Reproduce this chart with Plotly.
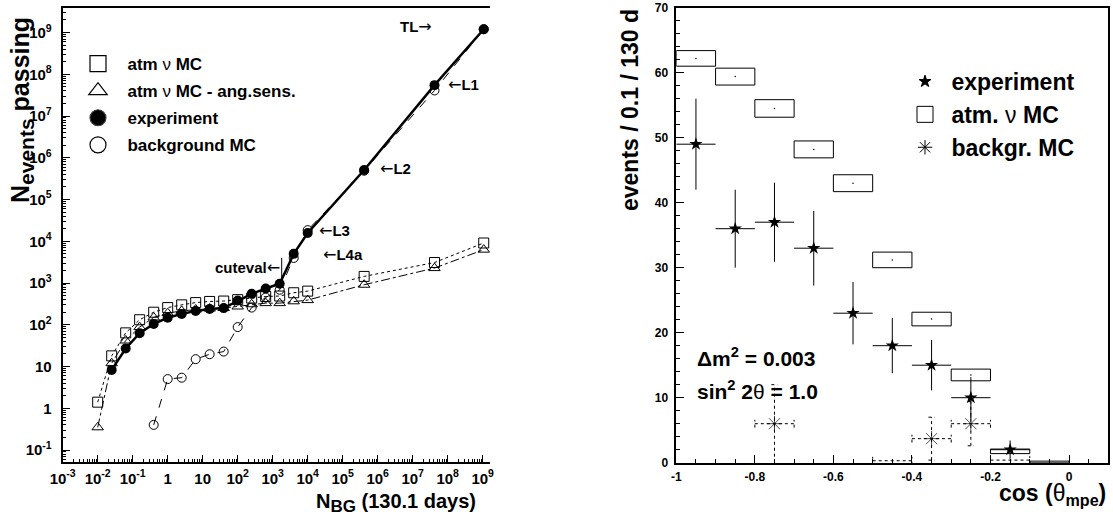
import math
import plotly.graph_objects as go

W, H = 1113, 525
FONT = "Liberation Sans"

# ---------------- left panel data ----------------
nbg_exp = [0.0251, 0.0631, 0.158, 0.398, 1.0, 2.51, 6.31, 15.8, 39.8, 100, 251, 631,
           1585, 3981, 10000, 4.1e5, 4.2e7, 1.07e9]
n_exp = [8.3, 27, 63, 105, 147, 182, 215, 240, 251, 380, 550, 740,
         960, 5000, 15800, 5.1e5, 5.5e7, 1.2e9]

nbg_bg = [0.398, 1.0, 2.51, 6.31, 15.8, 39.8, 100, 251, 631, 1585, 3981, 10000,
          4.1e5, 4.2e7, 1.07e9]
n_bg = [0.4, 5.0, 5.4, 15, 19.7, 22.8, 88, 258, 450, 690, 3980, 18500,
        4.9e5, 4.1e7, 1.2e9]

nbg_mc = [0.01, 0.0251, 0.0631, 0.158, 0.398, 1.0, 2.51, 6.31, 15.8, 39.8, 100, 251,
          631, 1585, 3981, 10000, 4.1e5, 4.2e7, 1.07e9]
n_mc = [1.4, 18, 64, 132, 200, 258, 300, 340, 362, 370, 400, 435,
        475, 488, 585, 640, 1440, 3100, 9100]
n_mc_ang = [0.35, 12, 42, 88, 150, 190, 215, 232, 245, 252, 274, 310,
            330, 330, 365, 390, 910, 2280, 6300]

left_xticks = [1e-3, 1e-2, 1e-1, 1, 10, 1e2, 1e3, 1e4, 1e5, 1e6, 1e7, 1e8, 1e9]
left_xticktext = ["10<sup>-3</sup>", "10<sup>-2</sup>", "10<sup>-1</sup>", "1", "10",
                  "10<sup>2</sup>", "10<sup>3</sup>", "10<sup>4</sup>", "10<sup>5</sup>",
                  "10<sup>6</sup>", "10<sup>7</sup>", "10<sup>8</sup>", "10<sup>9</sup>"]
left_yticks = [1e-1, 1, 10, 1e2, 1e3, 1e4, 1e5, 1e6, 1e7, 1e8, 1e9]
left_yticktext = ["10<sup>-1</sup>", "1", "10", "10<sup>2</sup>", "10<sup>3</sup>",
                  "10<sup>4</sup>", "10<sup>5</sup>", "10<sup>6</sup>", "10<sup>7</sup>",
                  "10<sup>8</sup>", "10<sup>9</sup>"]

# ---------------- right panel data ----------------
bin_centers = [-0.95, -0.85, -0.75, -0.65, -0.55, -0.45, -0.35, -0.25, -0.15, -0.05]
bin_halfwidth = 0.05
mc_atm = [62.2, 59.4, 54.5, 48.2, 43.0, 31.2, 22.1, 13.5, 1.75, 0.12]
mc_atm_err = [1.2, 1.3, 1.35, 1.3, 1.3, 1.2, 1.05, 0.9, 0.35, 0.12]

exp_x = [-0.95, -0.85, -0.75, -0.65, -0.55, -0.45, -0.35, -0.25, -0.15]
exp_n = [49, 36, 37, 33, 23, 18, 15, 10, 2]

bg_x = [-0.75, -0.45, -0.35, -0.25, -0.15]
bg_n = [6.0, 0.3, 3.7, 6.0, 0.4]
bg_err = [6.0, 0.0, 3.3, 3.4, 0.0]

right_xticks = [-1, -0.8, -0.6, -0.4, -0.2, 0]
right_xticktext = ["-1", "-0.8", "-0.6", "-0.4", "-0.2", "0"]


def px(p):
    return p / W


def py(p):
    return 1 - p / H


def log_minor(lo_exp, hi_exp):
    out = []
    for e in range(lo_exp, hi_exp + 1):
        for m in range(2, 10):
            out.append(m * 10.0 ** e)
    return out


NB = "\u00a0"
LARR = "<span style='font-family:DejaVu Sans;font-weight:normal;font-size:16px'>←</span>"
RARR = "<span style='font-family:DejaVu Sans;font-weight:normal;font-size:16px'>→</span>"
fig = go.Figure()

# ---------------- left panel traces ----------------
fig.add_trace(go.Scatter(x=nbg_mc, y=n_mc, mode="lines+markers", showlegend=False,
                         line=dict(color="black", width=1, dash="dot"),
                         marker=dict(symbol="square-open", size=10, color="black", line=dict(width=1)),
                         cliponaxis=False, xaxis="x", yaxis="y"))
fig.add_trace(go.Scatter(x=nbg_mc, y=n_mc_ang, mode="lines+markers", showlegend=False,
                         line=dict(color="black", width=1, dash="dashdot"),
                         marker=dict(symbol="triangle-up-open", size=10, color="black", line=dict(width=1)),
                         cliponaxis=False, xaxis="x", yaxis="y"))
fig.add_trace(go.Scatter(x=nbg_bg, y=n_bg, mode="lines+markers", showlegend=False,
                         line=dict(color="black", width=1, dash="dash"),
                         marker=dict(symbol="circle-open", size=9, color="black", line=dict(width=1)),
                         cliponaxis=False, xaxis="x", yaxis="y"))
fig.add_trace(go.Scatter(x=nbg_exp, y=n_exp, mode="lines+markers", showlegend=False,
                         line=dict(color="black", width=2.5),
                         marker=dict(symbol="circle", size=10, color="black"),
                         cliponaxis=False, xaxis="x", yaxis="y"))

# left legend keys
for i, (sym, sz, name) in enumerate([("square-open", 16, "<b>atm</b> ν <b>MC</b>"),
                                     ("triangle-up-open", 16, "<b>atm</b> ν <b>MC - ang.sens.</b>"),
                                     ("circle", 16, "<b>experiment</b>"),
                                     ("circle-open", 16, "<b>background MC</b>")]):
    fig.add_trace(go.Scatter(x=[None], y=[None], mode="markers", name=NB * 2 + name,
                             legend="legend", legendgroup="L%d" % i,
                             marker=dict(symbol=sym, size=sz, color="black", line=dict(width=1.2)),
                             xaxis="x", yaxis="y"))

# ---------------- right panel traces ----------------
fig.add_trace(go.Bar(x=bin_centers, y=[2 * e for e in mc_atm_err],
                     base=[m - e for m, e in zip(mc_atm, mc_atm_err)],
                     width=2 * bin_halfwidth, showlegend=False,
                     marker=dict(color="rgba(0,0,0,0)", line=dict(color="black", width=1)),
                     xaxis="x2", yaxis="y2"))
fig.add_trace(go.Scatter(x=bin_centers, y=mc_atm, mode="markers", showlegend=False,
                         marker=dict(symbol="circle", size=1.5, color="black"),
                         xaxis="x2", yaxis="y2"))

# background MC: dashed error bars built from the data
segx, segy = [], []
cap_x, cap_y = 0.008, 0.6
for x, y, e in zip(bg_x, bg_n, bg_err):
    segx += [x - bin_halfwidth, x + bin_halfwidth, None]
    segy += [y, y, None]
    segx += [x - bin_halfwidth, x - bin_halfwidth, None, x + bin_halfwidth, x + bin_halfwidth, None]
    segy += [y - cap_y, y + cap_y, None, y - cap_y, y + cap_y, None]
    if e > 0:
        lo = max(y - e, 0)
        segx += [x, x, None, x - cap_x, x + cap_x, None]
        segy += [lo, y + e, None, y + e, y + e, None]
        if y - e > 0:
            segx += [x - cap_x, x + cap_x, None]
            segy += [y - e, y - e, None]
fig.add_trace(go.Scatter(x=segx, y=segy, mode="lines", showlegend=False,
                         line=dict(color="black", width=1, dash="3px,3px"),
                         xaxis="x2", yaxis="y2"))
fig.add_trace(go.Scatter(x=bg_x, y=bg_n, mode="markers", showlegend=False,
                         marker=dict(symbol="asterisk-open", size=[13 if e > 0 else 0 for e in bg_err],
                                     color="black", line=dict(width=1, color="black")),
                         xaxis="x2", yaxis="y2"))

fig.add_trace(go.Scatter(x=exp_x, y=exp_n, mode="markers", showlegend=False,
                         marker=dict(symbol="star", size=10, color="black"),
                         error_x=dict(type="data", array=[bin_halfwidth] * len(exp_x),
                                      color="black", thickness=1, width=0),
                         error_y=dict(type="data", array=[math.sqrt(n) for n in exp_n],
                                      color="black", thickness=1, width=0),
                         xaxis="x2", yaxis="y2"))

# right legend keys
for i, (sym, sz, name) in enumerate([("star", 9, "<b>experiment</b>"),
                                     ("square-open", 18, "<b>atm.</b> ν <b>MC</b>"),
                                     ("asterisk-open", 12, "<b>backgr. MC</b>")]):
    fig.add_trace(go.Scatter(x=[None], y=[None], mode="markers", name=NB + name,
                             legend="legend2", legendgroup="R%d" % i,
                             marker=dict(symbol=sym, size=sz, color="black", line=dict(width=1, color="black")),
                             xaxis="x2", yaxis="y2"))

axis_common = dict(showgrid=False, zeroline=False, showline=True, linecolor="black",
                   ticks="inside", tickcolor="black", automargin=False)

LX = [px(62.7), px(489.7)]
LY = [py(461.7), py(7.5)]
minor_common = dict(showgrid=False, zeroline=False, showline=False, ticks="inside",
                    tickcolor="black", ticklen=3, showticklabels=False, automargin=False,
                    tickmode="array")

fig.update_layout(
    width=W, height=H,
    margin=dict(l=0, r=0, t=0, b=0, autoexpand=False),
    paper_bgcolor="white", plot_bgcolor="white",
    font=dict(family=FONT, color="black"),
    barmode="overlay",
    xaxis=dict(**axis_common, domain=LX, type="log", range=[-3, 9.2],
               tickmode="array", tickvals=left_xticks, ticktext=left_xticktext,
               ticklen=7, tickwidth=1, linewidth=2, mirror=True,
               tickfont=dict(size=15, weight="bold"), ticklabelstandoff=2, anchor="y"),
    yaxis=dict(**axis_common, domain=LY, type="log", range=[-1.28, 9.6],
               tickmode="array", tickvals=left_yticks, ticktext=left_yticktext,
               ticklen=7, tickwidth=1, linewidth=2,
               tickfont=dict(size=15, weight="bold"), ticklabelstandoff=6, anchor="x"),
    xaxis3=dict(**minor_common, domain=LX, type="log", range=[-3, 9.2],
                tickvals=log_minor(-3, 8), overlaying="x", anchor="y3", side="bottom"),
    yaxis3=dict(**minor_common, domain=LY, type="log", range=[-1.28, 9.6],
                tickvals=log_minor(-2, 9), overlaying="y", anchor="x3", side="left"),
    xaxis2=dict(**axis_common, domain=[px(676.3), px(1108.3)], range=[-1, 0.1],
                tickmode="array", tickvals=right_xticks, ticktext=right_xticktext,
                ticklen=8, tickwidth=1, linewidth=1.5, mirror=True,
                minor=dict(ticks="inside", ticklen=4, tickcolor="black", dtick=0.05),
                tickfont=dict(size=12, weight="bold"), ticklabelstandoff=2, anchor="y2"),
    yaxis2=dict(**axis_common, domain=[py(462.7), py(7.7)], range=[0, 70],
                tickmode="linear", tick0=0, dtick=10,
                ticklen=8, tickwidth=1, linewidth=1.5, mirror=True,
                minor=dict(ticks="inside", ticklen=4, tickcolor="black", dtick=2),
                tickfont=dict(size=12, weight="bold"), ticklabelstandoff=4, anchor="x2"),
    legend=dict(x=px(78), y=py(46), xanchor="left", yanchor="top",
                font=dict(size=17, family=FONT), bgcolor="rgba(0,0,0,0)",
                borderwidth=0, itemsizing="trace", tracegroupgap=2),
    legend2=dict(x=px(905), y=py(60), xanchor="left", yanchor="top",
                 font=dict(size=23, family=FONT), bgcolor="rgba(0,0,0,0)",
                 borderwidth=0, itemsizing="trace", tracegroupgap=0),
)

# invisible trace so the minor-tick axes are drawn
fig.add_trace(go.Scatter(x=[None], y=[None], mode="markers", showlegend=False,
                         xaxis="x3", yaxis="y3", hoverinfo="skip"))

ann = []


def add_text(text, x, y, size, xanchor="left", yanchor="middle", angle=0):
    ann.append(dict(text=text, x=px(x), y=py(y), xref="paper", yref="paper",
                    xanchor=xanchor, yanchor=yanchor, textangle=angle, showarrow=False,
                    font=dict(size=size, family=FONT, color="black")))


# axis titles
add_text("<b>N<sub><span style='font-size:21px'>events</span></sub> passing</b>",
         22, 110, 25, xanchor="center", angle=-90)
add_text("<b>N<sub><span style='font-size:17px'>BG</span></sub> (130.1 days)</b>",
         478, 503, 20, xanchor="right")
add_text("<b>events / 0.1 / 130 d</b>", 630, 110, 23, xanchor="center", angle=-90)
add_text("<b>cos (</b>θ<b><sub>mpe</sub>)</b>", 1108, 494, 23, xanchor="right")

# cut level labels
add_text("<b>TL</b>" + RARR, 434, 27, 15, xanchor="right")
add_text(LARR + "<b>L1</b>", 446, 85, 15)
add_text(LARR + "<b>L2</b>", 378, 168, 15)
add_text(LARR + "<b>L3</b>", 317, 231, 15)
add_text(LARR + "<b>L4a</b>", 321, 254, 15)
add_text("<b>cuteval</b>" + LARR, 282, 267, 15, xanchor="right")

# oscillation parameters
add_text("<b>Δm<sup>2</sup> = 0.003</b>", 695, 357, 21)
add_text("<b>sin<sup>2</sup> 2</b>θ<b> = 1.0</b>", 695, 390, 21)

fig.update_layout(annotations=ann,
                  shapes=[dict(type="line", xref="paper", yref="paper",
                               x0=px(281.7), x1=px(281.7), y0=py(258), y1=py(280),
                               line=dict(color="black", width=1))])

fig.write_html("out.html", config={"displayModeBar": False},
               post_script="document.body.style.margin='0px';")
